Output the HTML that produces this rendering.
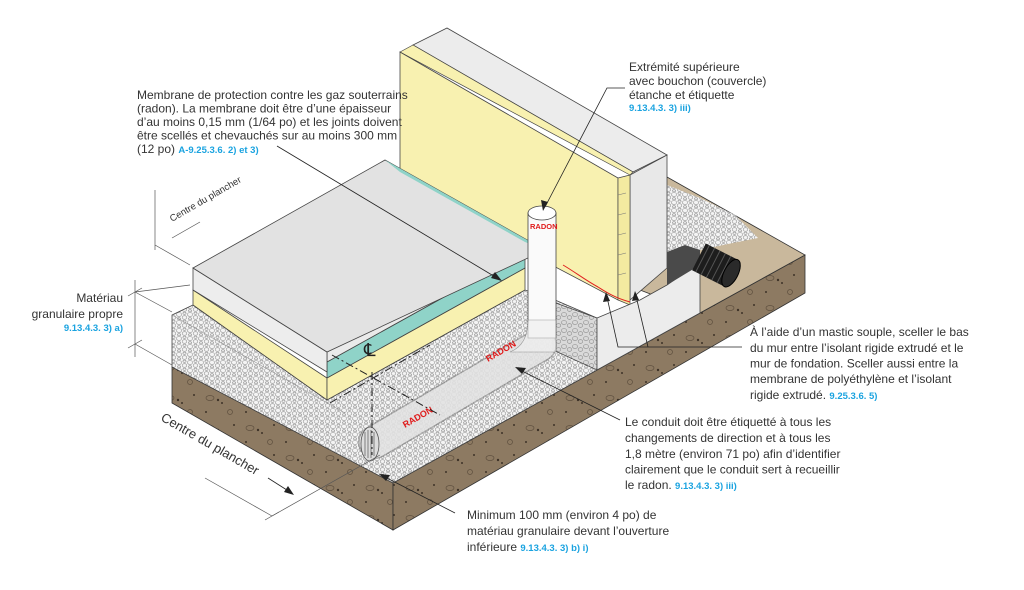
<!DOCTYPE html>
<html><head><meta charset="utf-8"><style>
html,body{margin:0;padding:0;background:#fff;}
svg{display:block;font-family:"Liberation Sans",sans-serif;}
.t{font-size:12px;fill:#333;}
.r{font-size:9.5px;fill:#1aa3e0;font-weight:bold;}
</style></head><body>
<svg width="1024" height="590" viewBox="0 0 1024 590" xmlns="http://www.w3.org/2000/svg">
<defs>
<pattern id="gr" width="11" height="8" patternUnits="userSpaceOnUse">
<rect width="11" height="8" fill="#f4f4f4"/>
<ellipse cx="3" cy="2.5" rx="2.6" ry="1.9" fill="none" stroke="#8a8a8a" stroke-width=".55"/>
<ellipse cx="8.5" cy="5.5" rx="2.3" ry="1.8" fill="none" stroke="#8a8a8a" stroke-width=".55"/>
<ellipse cx="8.5" cy="1.2" rx="1.6" ry="1.1" fill="none" stroke="#8a8a8a" stroke-width=".55"/>
<ellipse cx="3" cy="6.8" rx="1.6" ry="1.1" fill="none" stroke="#8a8a8a" stroke-width=".55"/>
</pattern>
<pattern id="grd" width="11" height="8" patternUnits="userSpaceOnUse">
<rect width="11" height="8" fill="#d9d9d9"/>
<ellipse cx="3" cy="2.5" rx="2.6" ry="1.9" fill="none" stroke="#888" stroke-width=".55"/>
<ellipse cx="8.5" cy="5.5" rx="2.3" ry="1.8" fill="none" stroke="#888" stroke-width=".55"/>
</pattern>
<pattern id="so" width="40" height="30" patternUnits="userSpaceOnUse">
<rect width="40" height="30" fill="#8d7a62"/>
<ellipse cx="10" cy="8" rx="4" ry="2.5" fill="none" stroke="#5e4f3e" stroke-width=".7"/>
<circle cx="18" cy="10" r="1.2" fill="#3e3328"/><circle cx="22" cy="13" r="1" fill="#3e3328"/>
<circle cx="30" cy="22" r="2.5" fill="none" stroke="#5e4f3e" stroke-width=".7"/>
<circle cx="6" cy="22" r="1" fill="#3e3328"/><circle cx="34" cy="5" r="1" fill="#3e3328"/>
</pattern>
</defs>

<polygon points="172,367 393,483 393,530 172,403" fill="url(#so)" stroke="#333" stroke-width=".8"/>
<polygon points="393,483 805,255 805,293 393,530" fill="url(#so)" stroke="#333" stroke-width=".8"/>
<polygon points="667,177 805,255 700,313 640,290" fill="#c9b89c" stroke="#333" stroke-width=".8"/>
<polygon points="667,185 700,198 735,215 758,238 728,244 700,250 667,252" fill="url(#gr)"/>
<polygon points="172,315 193,305 327,400 525,290 555,300 597,318 597,370 393,483 172,367" fill="url(#gr)" stroke="#444" stroke-width=".8"/>
<line x1="172" y1="315" x2="345" y2="413" stroke="#999" stroke-width=".6"/>
<polygon points="553,302 597,318 597,370 553,350" fill="url(#grd)" stroke="#444" stroke-width=".7"/>

<line x1="540" y1="345" x2="375" y2="442" stroke="#777" stroke-width="34" stroke-linecap="round" opacity=".55"/>
<line x1="540" y1="345" x2="375" y2="442" stroke="#f6f6f6" stroke-width="31" stroke-linecap="round" opacity=".75"/>
<ellipse cx="370" cy="444" rx="9" ry="17" fill="#ddd" stroke="#555" stroke-width=".8"/>
<g stroke="#666" stroke-width=".8"><line x1="365" y1="432" x2="365" y2="456"/><line x1="368" y1="430" x2="368" y2="458"/><line x1="371" y1="430" x2="371" y2="458"/><line x1="374" y1="432" x2="374" y2="456"/></g>
<text x="0" y="0" transform="translate(405,428) rotate(-30)" font-size="9" font-weight="bold" fill="#e01b1b">RADON</text>
<text x="0" y="0" transform="translate(488,362) rotate(-30)" font-size="9" font-weight="bold" fill="#e01b1b">RADON</text>

<polygon points="413,45 447,28 667,155 633,172" fill="#ececec" stroke="#444" stroke-width=".8"/>
<polygon points="630,175 667,155 667,268 630,300" fill="#e8e8e8" stroke="#444" stroke-width=".8"/>
<polygon points="400,52 413,45 633,172 630,175" fill="#f8f1b0" stroke="#444" stroke-width=".7"/>
<polygon points="400,52 618,178 618,300 400,185" fill="#f8f1b0" stroke="#444" stroke-width=".8"/>
<polygon points="618,178 630,175 630,305 618,300" fill="#f3eaa0" stroke="#444" stroke-width=".7"/>
<g stroke="#777" stroke-width=".6"><line x1="618" y1="195" x2="626" y2="193"/><line x1="618" y1="215" x2="626" y2="213"/><line x1="618" y1="235" x2="626" y2="233"/><line x1="618" y1="255" x2="626" y2="253"/><line x1="618" y1="275" x2="626" y2="273"/></g>
<polygon points="597,318 640,300 667,285 700,262 700,313 597,370" fill="#ececec" stroke="#444" stroke-width=".8"/>
<polygon points="667,252 685,245 700,250 700,265 667,285" fill="#4a4a4a"/>
<g transform="translate(715,265) rotate(27)">
<rect x="-18" y="-15" width="36" height="30" fill="#1d1d1d"/>
<g stroke="#555" stroke-width="1"><line x1="-14" y1="-15" x2="-14" y2="15"/><line x1="-8" y1="-15" x2="-8" y2="15"/><line x1="-2" y1="-15" x2="-2" y2="15"/><line x1="4" y1="-15" x2="4" y2="15"/><line x1="10" y1="-15" x2="10" y2="15"/></g>
<ellipse cx="18" cy="0" rx="7" ry="15" fill="#2a2a2a" stroke="#000"/>
</g>
<path d="M563,265 C575,272 585,280 598,287 C606,292 615,298 630,302" fill="none" stroke="#e02020" stroke-width="1"/>

<polygon points="193,290 327,378 327,400 193,305" fill="#f8f1b0" stroke="#444" stroke-width=".8"/>
<polygon points="327,378 525,268 525,290 327,400" fill="#f8f1b0" stroke="#444" stroke-width=".8"/>
<polygon points="327,362 525,252 525,268 327,378" fill="#8fd3c8" stroke="#444" stroke-width=".8"/>
<polygon points="327,352 525,242 525,252 327,362" fill="#eaeaea" stroke="#444" stroke-width=".8"/>
<polygon points="193,268 327,352 327,372 193,290" fill="#ededed" stroke="#444" stroke-width=".8"/>
<polygon points="193,268 385,160 545,250 327,352" fill="#e2e2e2" stroke="#444" stroke-width=".8"/>
<polygon points="385,160 545,250 525,242 400,172" fill="#8fd3c8"/>
<rect x="528" y="213" width="28" height="125" fill="#fafafa" stroke="#444" stroke-width=".8"/>
<path d="M528,320 Q528,345 510,352 L556,352 L556,320 Z" fill="#f0f0f0" stroke="#777" stroke-width=".6" opacity=".7"/>
<ellipse cx="542" cy="213" rx="14" ry="7" fill="#fff" stroke="#444" stroke-width=".8"/>
<text x="530" y="229" font-size="7.5" font-weight="bold" fill="#e01b1b">RADON</text>
<g stroke="#222" stroke-width="1" stroke-dasharray="8,3,2,3" fill="none">
<line x1="330" y1="403" x2="430" y2="345"/>
<line x1="332" y1="355" x2="440" y2="415"/>
<line x1="372" y1="372" x2="372" y2="455"/>
</g>
<text x="364" y="356" font-size="18" fill="#222">℄</text>

<g stroke="#555" stroke-width=".7" fill="none">
<line x1="135" y1="280" x2="135" y2="357"/>
<line x1="128" y1="296" x2="142" y2="288"/><line x1="128" y1="348" x2="142" y2="340"/>
<line x1="135" y1="292" x2="172" y2="312"/><line x1="135" y1="344" x2="172" y2="365"/>
<line x1="135" y1="292" x2="190" y2="285"/>
<line x1="155" y1="190" x2="155" y2="250"/>
<line x1="155" y1="245" x2="190" y2="265"/>
<line x1="200" y1="222" x2="172" y2="238"/>
<line x1="205" y1="478" x2="272" y2="516"/>
<line x1="265" y1="520" x2="279" y2="512"/>
<line x1="272" y1="516" x2="380" y2="455"/>
</g>
<text transform="translate(172,222) rotate(-30)" font-size="9.5" fill="#333">Centre du plancher</text>
<text transform="translate(160,420) rotate(30)" font-size="13" fill="#333">Centre du plancher</text>
<line x1="268" y1="478" x2="290" y2="492" stroke="#222" stroke-width=".8"/>
<polygon points="294,495 284,492 288,486" fill="#222"/>

<g stroke="#222" stroke-width=".8" fill="none">
<line x1="277" y1="146" x2="497" y2="278"/>
<polyline points="625,88 607,88 545,207"/>
<polyline points="742,347 618,347 607,297"/>
<line x1="648" y1="347" x2="636" y2="296"/>
<line x1="620" y1="420" x2="520" y2="370"/>
<line x1="455" y1="513" x2="383" y2="476"/>
</g>
<g fill="#222">
<polygon points="502,281 491,278 495,272"/>
<polygon points="543,211 541,200 548,202"/>
<polygon points="606,292 603,302 610,301"/>
<polygon points="635,291 632,301 639,300"/>
<polygon points="515,367 526,368 522,374"/>
<polygon points="379,474 390,475 386,481"/>
</g>

<text class="t" font-size="11.2"><tspan x="137" y="99">Membrane de protection contre les gaz souterrains</tspan><tspan x="137" y="112.5">(radon). La membrane doit être d’une épaisseur</tspan><tspan x="137" y="126">d’au moins 0,15 mm (1/64 po) et les joints doivent</tspan><tspan x="137" y="139.5">être scellés et chevauchés sur au moins 300 mm</tspan><tspan x="137" y="153">(12 po) <tspan class="r">A-9.25.3.6. 2) et 3)</tspan></tspan></text>
<text class="t" font-size="11"><tspan x="629" y="71">Extrémité supérieure</tspan><tspan x="629" y="85">avec bouchon (couvercle)</tspan><tspan x="629" y="99">étanche et étiquette</tspan></text>
<text class="r" x="629" y="111">9.13.4.3. 3) iii)</text>
<text class="t" text-anchor="end" font-size="12.5"><tspan x="123" y="302">Matériau</tspan><tspan x="123" y="318">granulaire propre</tspan></text>
<text class="r" x="123" y="331" text-anchor="end">9.13.4.3. 3) a)</text>
<text class="t" font-size="12.5"><tspan x="750" y="336">À l’aide d’un mastic souple, sceller le bas</tspan><tspan x="750" y="352">du mur entre l’isolant rigide extrudé et le</tspan><tspan x="750" y="367.5">mur de fondation. Sceller aussi entre la</tspan><tspan x="750" y="383">membrane de polyéthylène et l’isolant</tspan><tspan x="750" y="399">rigide extrudé. <tspan class="r">9.25.3.6. 5)</tspan></tspan></text>
<text class="t" font-size="12.5"><tspan x="625" y="426">Le conduit doit être étiquetté à tous les</tspan><tspan x="625" y="442">changements de direction et à tous les</tspan><tspan x="625" y="458">1,8 mètre (environ 71 po) afin d’identifier</tspan><tspan x="625" y="473.5">clairement que le conduit sert à recueillir</tspan><tspan x="625" y="489">le radon. <tspan class="r">9.13.4.3. 3) iii)</tspan></tspan></text>
<text class="t" font-size="12.5"><tspan x="467" y="519">Minimum 100 mm (environ 4 po) de</tspan><tspan x="467" y="535">matériau granulaire devant l’ouverture</tspan><tspan x="467" y="551">inférieure <tspan class="r">9.13.4.3. 3) b) i)</tspan></tspan></text>
</svg>
</body></html>
